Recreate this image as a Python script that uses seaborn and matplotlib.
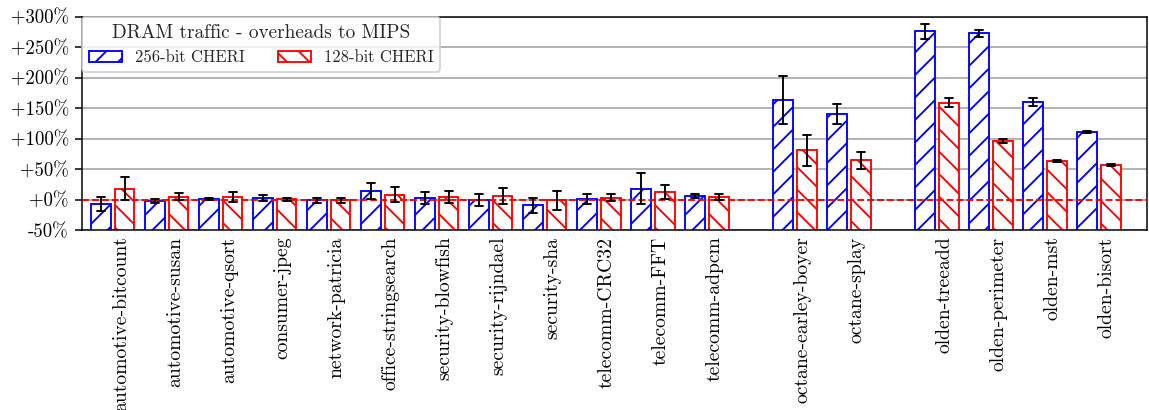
import pandas as pd
import matplotlib.pyplot as plt
import matplotlib.ticker as mticker
import matplotlib.transforms as mtransforms
import seaborn as sns

# ======================
# Datos
# ======================
benchmarks = [
    'automotive-bitcount', 'automotive-susan', 'automotive-qsort', 'consumer-jpeg',
    'network-patricia', 'office-stringsearch', 'security-blowfish', 'security-rijndael',
    'security-sha', 'telecomm-CRC32', 'telecomm-FFT', 'telecomm-adpcm',
    'octane-earley-boyer', 'octane-splay',
    'olden-treeadd', 'olden-perimeter', 'olden-mst', 'olden-bisort',
]
cheri256 = [-7, -2.7, 1.1, 2.7, -1.1, 14.3, 2.7, -1.1, -9.5, 1.1, 17.6, 5.5,
            163.5, 140.6, 276.4, 273.0, 159.9, 111.5]
cheri256_err = [11.5, 3.6, 2.2, 5.0, 4.0, 12.6, 10.2, 9.6, 12.9, 7.7, 25.3, 3.0,
                40.0, 16.8, 12.6, 6.0, 6.3, 1.6]
cheri128 = [17.6, 4.4, 4.4, 0.5, -1.0, 8.2, 4.0, 6.0, -1.5, 3.3, 12.3, 4.4,
            81.3, 64.5, 159.3, 96.7, 63.2, 57.1]
cheri128_err = [18.7, 5.8, 8.2, 2.7, 4.4, 12.0, 10.4, 13.7, 15.0, 5.5, 11.0, 5.5,
                25.3, 14.3, 6.9, 3.0, 2.0, 1.1]
configs = ['256-bit CHERI', '128-bit CHERI']
colores = {'256-bit CHERI': 'blue', '128-bit CHERI': 'red'}
tramas = {'256-bit CHERI': '//', '128-bit CHERI': '\\\\'}

# ======================
# Posiciones con separación entre suites
# ======================
GAP = 0.63
suites = ['olden' if b.startswith('olden') else 'octane' if b.startswith('octane') else 'mibench'
          for b in benchmarks]
orden_suite = ['mibench', 'octane', 'olden']
x_pos = [i + GAP * orden_suite.index(s) for i, s in enumerate(suites)]

# tráfico relativo a MIPS (100 = igual); dos filas por barra (valor - err, valor + err)
filas = []
for cfg, vals, errs in [(configs[0], cheri256, cheri256_err), (configs[1], cheri128, cheri128_err)]:
    for x, v, e in zip(x_pos, vals, errs):
        filas.append({'x': x, 'config': cfg, 'trafico': 100 + v - e})
        filas.append({'x': x, 'config': cfg, 'trafico': 100 + v + e})
df = pd.DataFrame(filas)

# ======================
# Estilo
# ======================
sns.set_style('ticks')
plt.rcParams['font.family'] = ['cmr10', 'DejaVu Serif']
plt.rcParams['mathtext.fontset'] = 'cm'
plt.rcParams['axes.unicode_minus'] = False
plt.rcParams['axes.edgecolor'] = 'black'
plt.rcParams['xtick.color'] = 'black'
plt.rcParams['ytick.color'] = 'black'
plt.rcParams['hatch.linewidth'] = 1.0

DPI = 135
fig, ax = plt.subplots(figsize=(1149 / DPI, 410 / DPI), dpi=DPI)
fig.subplots_adjust(left=0.0714, right=0.9983, top=0.9585, bottom=0.439)

sns.barplot(data=df, x='x', y='trafico', hue='config', hue_order=configs,
            palette=colores, native_scale=True, width=0.88, gap=0.18,
            estimator='mean', errorbar=lambda v: (v.min(), v.max()),
            capsize=0.3, err_kws={'color': 'black', 'linewidth': 1.0, 'zorder': 5},
            legend=False, ax=ax)

for cont, cfg in zip(ax.containers, configs):
    for barra in cont:
        barra.set_facecolor('white')
        barra.set_edgecolor(colores[cfg])
        barra.set_hatch(tramas[cfg])
        barra.set_linewidth(1.0)

ax.axhline(100, color='red', linestyle='--', linewidth=1.0, zorder=4)

ax.set_ylim(50, 400)
ax.yaxis.set_major_locator(mticker.MultipleLocator(50))
ax.yaxis.set_major_formatter(mticker.FuncFormatter(lambda v, p: f'{v - 100:+.0f}%'))
ax.yaxis.grid(True, color='#b0b0b0', linewidth=1.0)
ax.set_axisbelow(True)

ax.set_xlim(x_pos[0] - 0.57, x_pos[-1] + 0.89)
ax.set_xticks(x_pos)
ax.set_xticklabels(benchmarks, rotation=90)
ax.tick_params(axis='x', length=0, labelsize=10.5)
ax.tick_params(axis='y', labelsize=10)
desplaza = mtransforms.ScaledTranslation(8 / DPI, 0, fig.dpi_scale_trans)
for etiqueta in ax.get_xticklabels():
    etiqueta.set_transform(etiqueta.get_transform() + desplaza)
ax.set_xlabel('')
ax.set_ylabel('')
for lado in ['top', 'right', 'bottom', 'left']:
    ax.spines[lado].set_visible(True)
    ax.spines[lado].set_color('black')

handles = [ax.containers[0][0], ax.containers[1][0]]
leg = ax.legend(handles, configs, title='DRAM traffic - overheads to MIPS',
                loc='upper left', ncol=2, borderaxespad=0, fontsize=8.8,
                title_fontsize=10.3, framealpha=0.8)
leg.set_zorder(10)

fig.savefig('out.png', dpi=DPI)
